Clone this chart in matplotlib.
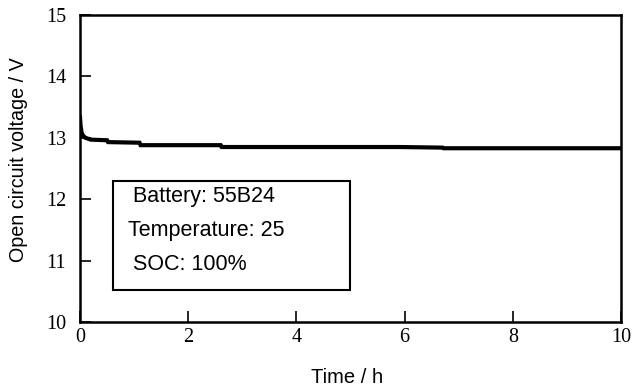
import matplotlib
matplotlib.use('Agg')
import matplotlib.pyplot as plt
from matplotlib.patches import Rectangle

# open circuit voltage readings
time_h = [0.0, 0.01, 0.03, 0.06, 0.1, 0.2, 0.5, 0.52, 1.1, 1.12, 2.6, 2.62, 5.9, 6.7, 6.72, 10.0]
ocv_v = [13.33, 13.2, 13.08, 13.03, 13.0, 12.97, 12.96, 12.93, 12.92, 12.88, 12.88, 12.85, 12.85, 12.84, 12.83, 12.83]

info_lines = ['Battery: 55B24', 'Temperature: 25', 'SOC: 100%']
info_x = [0.98, 0.89, 0.98]
info_y = [12.04, 11.49, 10.93]

sans = 'Liberation Sans'
serif = 'Liberation Serif'

fig = plt.figure(figsize=(6.33, 3.9), dpi=100)
ax = fig.add_axes([0.1264, 0.1744, 0.8547, 0.7871])

ax.plot(time_h, ocv_v, color='black', linewidth=3, solid_joinstyle='miter')

ax.set_xlim(0, 10)
ax.set_ylim(10, 15)
ax.set_xticks(range(0, 11, 2))
ax.set_yticks(range(10, 16))
ax.tick_params(direction='in', length=8, width=1.2, labelsize=14.5,
               top=False, right=False)
ax.tick_params(axis='y', pad=10)
ax.tick_params(axis='x', pad=4)
for lab in ax.get_xticklabels() + ax.get_yticklabels():
    lab.set_family(serif)
for sp in ax.spines.values():
    sp.set_linewidth(1.8)

ax.set_xlabel('Time / h', family=sans, fontsize=14.5)
ax.set_ylabel('Open circuit voltage / V', family=sans, fontsize=14.2)
ax.xaxis.set_label_coords(0.494, -0.15)
ax.yaxis.set_label_coords(-0.096, 0.529)

# info box
ax.add_patch(Rectangle((0.61, 10.52), 4.38, 1.78, fill=False, edgecolor='black', linewidth=1.5))
for txt, x, y in zip(info_lines, info_x, info_y):
    ax.text(x, y, txt, family=sans, fontsize=15.5, va='center', ha='left')

fig.savefig('out.png', dpi=100)
